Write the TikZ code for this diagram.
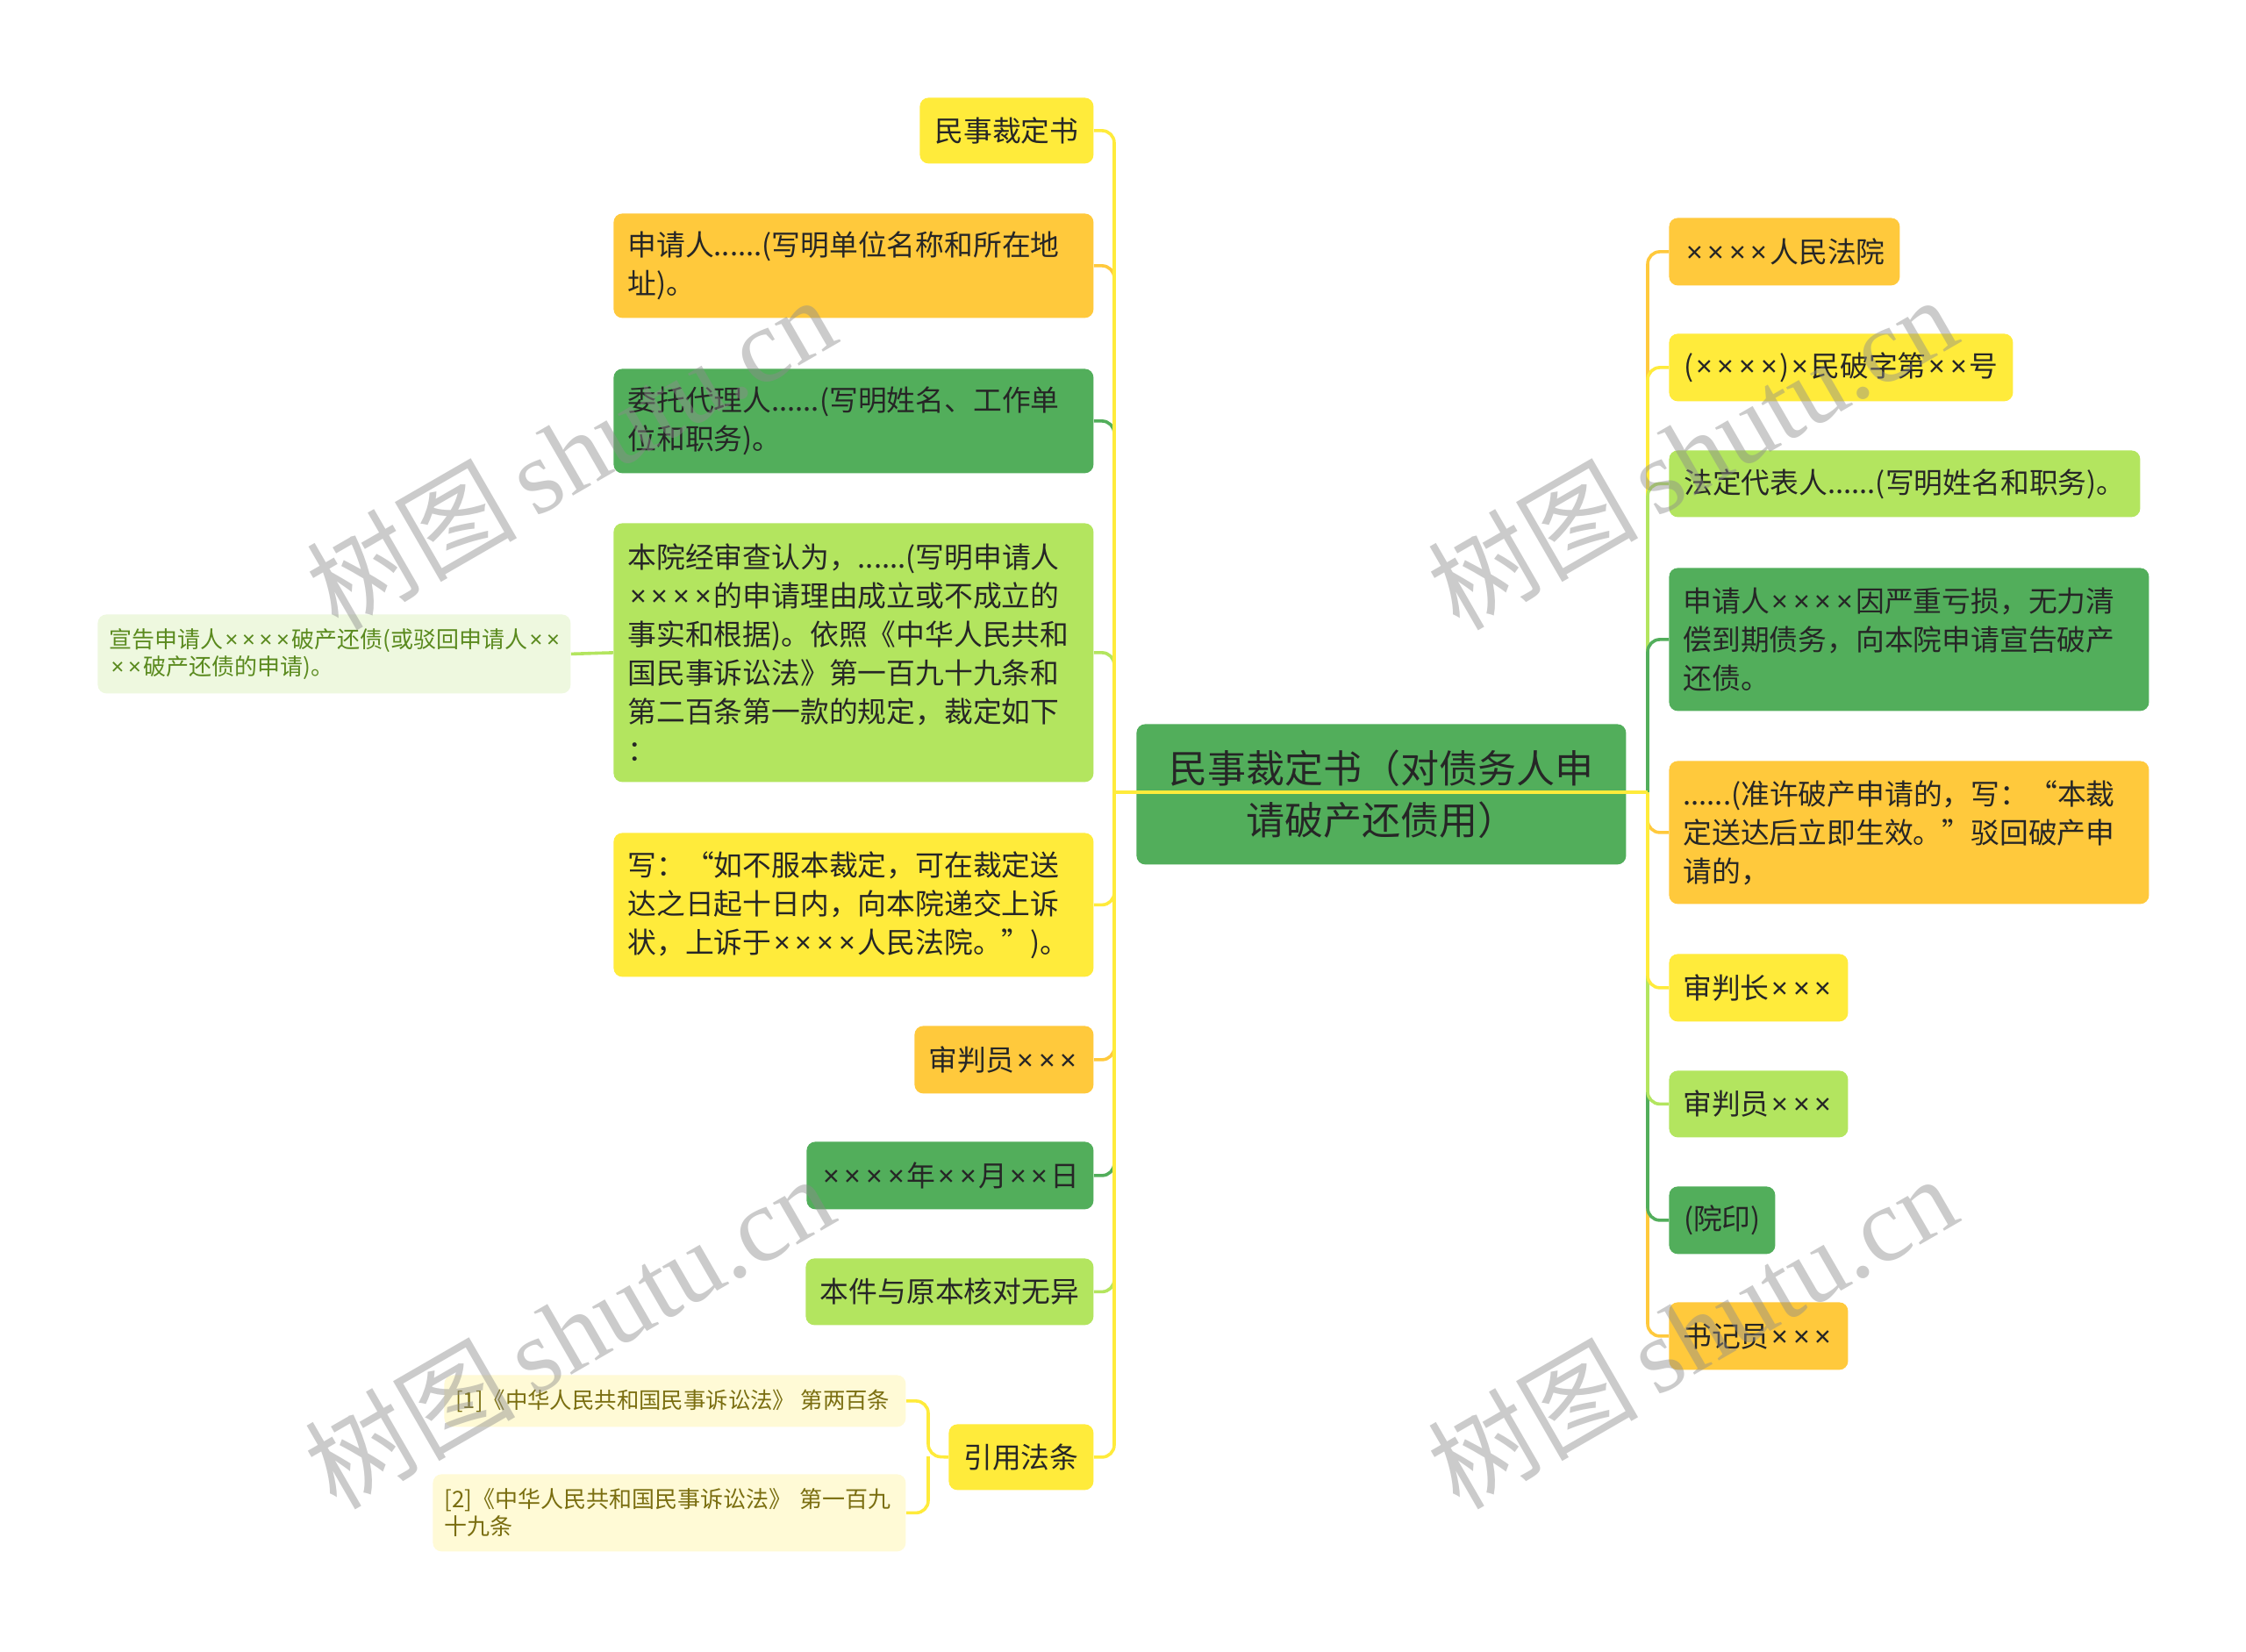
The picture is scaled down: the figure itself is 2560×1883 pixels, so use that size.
\documentclass[tikz,border=0pt]{standalone}
\usepackage{fontspec}
\setmainfont{Noto Sans CJK SC}
\newfontfamily\wmserif{Liberation Serif}
\newfontfamily\wmcjk{Noto Sans CJK SC}
\newfontfamily\xfont{Noto Sans}
\newcommand\X{\makebox[0.75em]{\xfont ×}}
\definecolor{cY}{HTML}{FFEB3B}
\definecolor{cO}{HTML}{FFC93C}
\definecolor{cG}{HTML}{52AE5B}
\definecolor{cL}{HTML}{B3E55F}
\definecolor{cPG}{HTML}{EEF8DF}
\definecolor{cPY}{HTML}{FFFAD6}
\definecolor{tPG}{HTML}{5A8A1E}
\definecolor{tPY}{HTML}{7A6E10}
\definecolor{txt}{HTML}{262626}
\definecolor{wm}{HTML}{8C8C8C}
\begin{document}
\begin{tikzpicture}[x=0.5pt,y=-0.5pt,
  box/.style={rounded corners=5pt, inner sep=0pt, anchor=north west, text=txt,
    font=\fontsize{16.4}{22}\selectfont, align=center},
  mbox/.style={box, inner xsep=8pt, align=left},
  sbox/.style={rounded corners=5pt, inner sep=0pt, inner xsep=6.5pt, anchor=north west,
    font=\fontsize{13}{15.5}\selectfont, align=left},
  conn/.style={line width=1.8pt, rounded corners=7pt},
  wmark/.style={rotate=30, text=wm, text opacity=0.45, inner sep=0pt}]
\useasboundingbox (0,0) rectangle (2560,1883);
\fill[white] (0,0) rectangle (2560,1883);

% ---------- left nodes ----------
\node[box, fill=cY, minimum width=99pt, minimum height=37.5pt] (l1) at (1048,111) {民事裁定书};
\node[mbox, fill=cO, text width=257.5pt, minimum height=59.5pt] (l2) at (699,243)
  {申请人......(写明单位名称和所在地\\址)。};
\node[mbox, fill=cG, text width=257.5pt, minimum height=59.5pt] (l3) at (699,420)
  {委托代理人......(写明姓名、工作单\\位和职务)。};
\node[mbox, fill=cL, text width=257.5pt, minimum height=147.5pt] (l4) at (699,596)
  {本院经审查认为，......(写明申请人\\\X{}\X{}\X{}\X{}的申请理由成立或不成立的\\事实和根据)。依照《中华人民共和\\国民事诉讼法》第一百九十九条和\\第二百条第一款的规定，裁定如下\\：};
\node[sbox, fill=cPG, text=tPG, text width=256.5pt, minimum height=45pt] (l4a) at (111,700)
  {宣告申请人\X{}\X{}\X{}\X{}破产还债(或驳回申请人\X{}\X{}\\\X{}\X{}破产还债的申请)。};
\node[mbox, fill=cY, text width=257.5pt, minimum height=82pt] (l5) at (699,949)
  {写：“如不服本裁定，可在裁定送\\达之日起十日内，向本院递交上诉\\状，上诉于\X{}\X{}\X{}\X{}人民法院。”)。};
\node[box, fill=cO, minimum width=102pt, minimum height=38.5pt] (l6) at (1042,1169) {审判员\X{}\X{}\X{}};
\node[box, fill=cG, minimum width=163.5pt, minimum height=38.5pt] (l7) at (919,1301) {\X{}\X{}\X{}\X{}年\X{}\X{}月\X{}\X{}日};
\node[box, fill=cL, minimum width=164pt, minimum height=38pt] (l8) at (918,1434) {本件与原本核对无异};
\node[box, fill=cY, minimum width=82.5pt, minimum height=37.5pt] (l9) at (1081,1623) {引用法条};
\node[sbox, fill=cPY, text=tPY, text width=250pt, minimum height=29.5pt,
  font=\fontsize{12.7}{15.5}\selectfont] (l9a) at (506,1567)
  {\mbox{[1]《中华人民共和国民事诉讼法》\hspace{0.25em}第两百条}};
\node[sbox, fill=cPY, text=tPY, text width=256.5pt, minimum height=44pt] (l9b) at (493,1680)
  {[2]《中华人民共和国民事诉讼法》 第一百九\\十九条};

% ---------- right nodes ----------
\node[box, fill=cO, minimum width=131.5pt, minimum height=38.5pt] (r1) at (1902,248) {\X{}\X{}\X{}\X{}人民法院};
\node[box, fill=cY, minimum width=196pt, minimum height=38.5pt] (r2) at (1902,380) {(\X{}\X{}\X{}\X{})\X{}民破字第\X{}\X{}号};
\node[box, fill=cL, minimum width=268.5pt, minimum height=38pt] (r3) at (1902,513) {法定代表人......(写明姓名和职务)。};
\node[mbox, fill=cG, text width=257.5pt, minimum height=81.5pt] (r4) at (1902,647)
  {申请人\X{}\X{}\X{}\X{}因严重亏损，无力清\\偿到期债务，向本院申请宣告破产\\还债。};
\node[mbox, fill=cO, text width=257.5pt, minimum height=81.5pt] (r5) at (1902,867)
  {......(准许破产申请的，写：“本裁\\定送达后立即生效。”驳回破产申\\请的，};
\node[box, fill=cY, minimum width=102pt, minimum height=38.5pt] (r6) at (1902,1087) {审判长\X{}\X{}\X{}};
\node[box, fill=cL, minimum width=102pt, minimum height=38pt] (r7) at (1902,1220) {审判员\X{}\X{}\X{}};
\node[box, fill=cG, minimum width=60.5pt, minimum height=38.5pt] (r8) at (1902,1352) {(院印)};
\node[box, fill=cO, minimum width=102pt, minimum height=38.5pt] (r9) at (1902,1484) {书记员\X{}\X{}\X{}};

% ---------- root ----------
\node[box, fill=cG, minimum width=279pt, minimum height=80pt,
  font=\fontsize{22}{29.5}\selectfont] (root) at (1295,825)
  {民事裁定书（对债务人申\\请破产还债用）};

% ---------- connectors ----------
\coordinate (L) at (1270,903);
\coordinate (R) at (1878,903);
\coordinate (T9) at (1058,1660);
\draw[conn, draw=cO] (l2.east) -| (L);
\draw[conn, draw=cG] (l3.east) -| (L);
\draw[conn, draw=cL] (l4.east) -| (L);
\draw[conn, draw=cY] (l1.east) -| (L);
\draw[conn, draw=cL] (l8.east) -| (L);
\draw[conn, draw=cG] (l7.east) -| (L);
\draw[conn, draw=cO] (l6.east) -| (L);
\draw[conn, draw=cY] (l5.east) -| (L);
\draw[conn, draw=cY] (l9.east) -| (L);
\draw[line width=1.8pt, draw=cL] (l4a.east) -- (l4.west);
\draw[conn, draw=cY] (l9a.east) -| (T9) -- (l9.west);
\draw[conn, draw=cY] (l9b.east) -| (T9);

\draw[conn, draw=cO] (r1.west) -| (R);
\draw[conn, draw=cY] (r2.west) -| (R);
\draw[conn, draw=cL] (r3.west) -| (R);
\draw[conn, draw=cG] (r4.west) -| (R);
\draw[conn, draw=cO] (r5.west) -| (R);
\draw[conn, draw=cO] (r9.west) -| (R);
\draw[conn, draw=cG] (r8.west) -| (R);
\draw[conn, draw=cL] (r7.west) -| (R);
\draw[conn, draw=cY] (r6.west) -| (R);

% root line across
\draw[line width=1.8pt, draw=cY] (L) -- (R);

% ---------- watermark ----------
\foreach \p/\n in {{(650,515)}/w1,{(1928,515)}/w2,{(648,1517)}/w3,{(1928,1517)}/w4}{
  \node[wmark] (\n) at \p {\fontsize{60}{60}\selectfont\wmcjk 树图\,\wmserif shutu.cn};
}
\end{tikzpicture}
\end{document}
